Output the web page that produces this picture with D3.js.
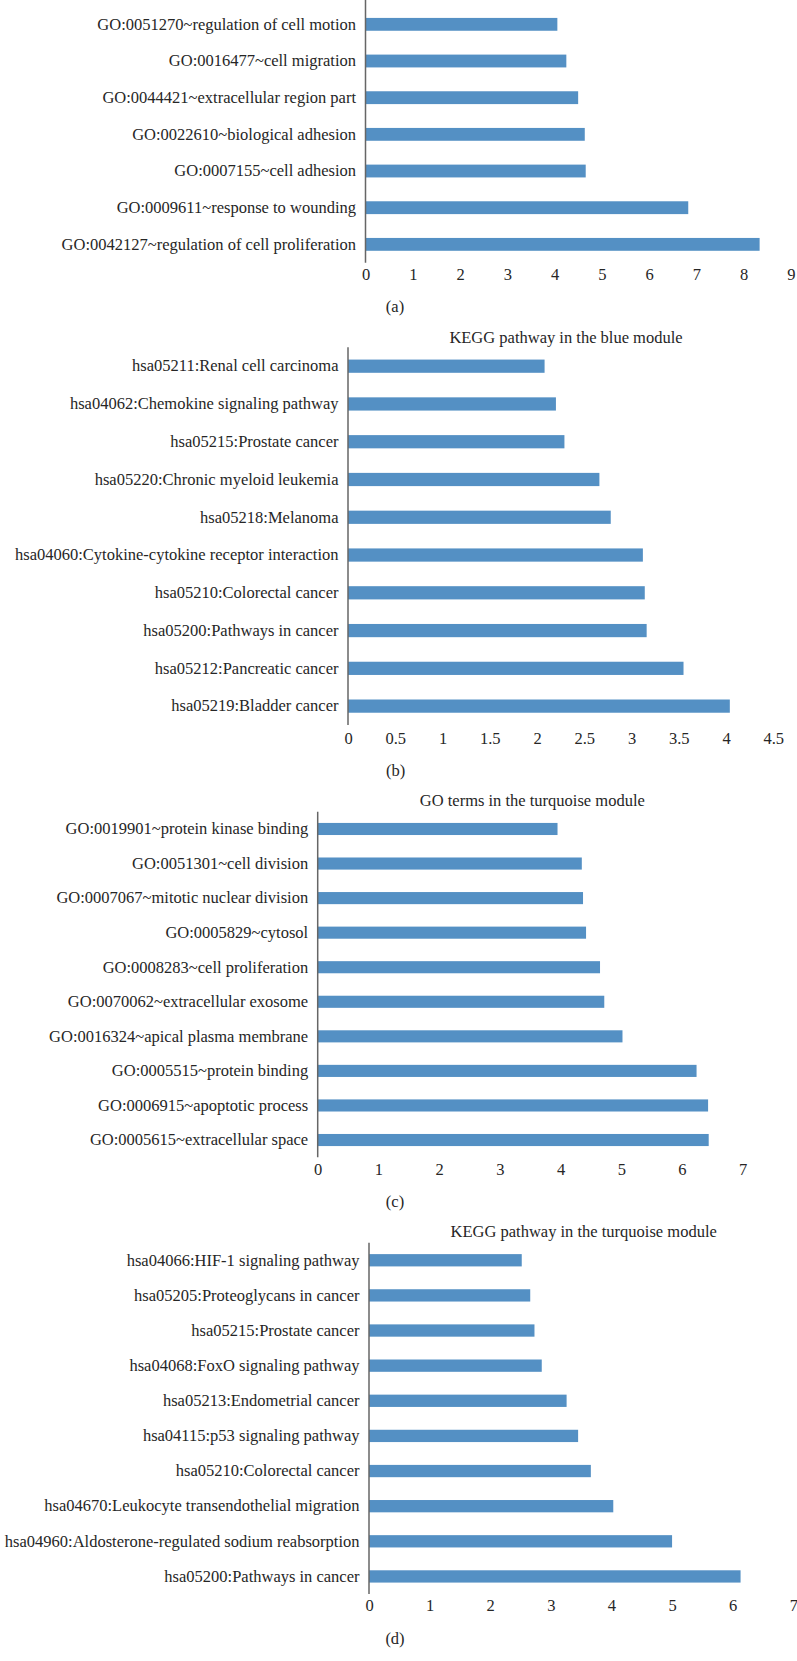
<!DOCTYPE html>
<html>
<head>
<meta charset="utf-8">
<script src="https://cdn.jsdelivr.net/npm/d3@7"></script>
<style>
  html, body { margin: 0; padding: 0; background: #ffffff; }
  svg { display: block; }
  text { font-family: "Liberation Serif", "Times New Roman", serif; fill: #262626; }
</style>
</head>
<body>
<svg id="chart" width="797" height="1661"></svg>
<script>
// ---------- Data ----------
const categoriesA = [
  "GO:0051270~regulation of cell motion",
  "GO:0016477~cell migration",
  "GO:0044421~extracellular region part",
  "GO:0022610~biological adhesion",
  "GO:0007155~cell adhesion",
  "GO:0009611~response to wounding",
  "GO:0042127~regulation of cell proliferation"
];
const valuesA = [4.06, 4.25, 4.50, 4.64, 4.66, 6.83, 8.34];
const ticksA = [0, 1, 2, 3, 4, 5, 6, 7, 8, 9];

const titleB = "KEGG pathway in the blue module";
const categoriesB = [
  "hsa05211:Renal cell carcinoma",
  "hsa04062:Chemokine signaling pathway",
  "hsa05215:Prostate cancer",
  "hsa05220:Chronic myeloid leukemia",
  "hsa05218:Melanoma",
  "hsa04060:Cytokine-cytokine receptor interaction",
  "hsa05210:Colorectal cancer",
  "hsa05200:Pathways in cancer",
  "hsa05212:Pancreatic cancer",
  "hsa05219:Bladder cancer"
];
const valuesB = [2.08, 2.20, 2.29, 2.66, 2.78, 3.12, 3.14, 3.16, 3.55, 4.04];
const ticksB = [0, 0.5, 1, 1.5, 2, 2.5, 3, 3.5, 4, 4.5];

const titleC = "GO terms in the turquoise module";
const categoriesC = [
  "GO:0019901~protein kinase binding",
  "GO:0051301~cell division",
  "GO:0007067~mitotic nuclear division",
  "GO:0005829~cytosol",
  "GO:0008283~cell proliferation",
  "GO:0070062~extracellular exosome",
  "GO:0016324~apical plasma membrane",
  "GO:0005515~protein binding",
  "GO:0006915~apoptotic process",
  "GO:0005615~extracellular space"
];
const valuesC = [3.95, 4.35, 4.37, 4.42, 4.65, 4.72, 5.02, 6.24, 6.43, 6.44];
const ticksC = [0, 1, 2, 3, 4, 5, 6, 7];

const titleD = "KEGG pathway in the turquoise module";
const categoriesD = [
  "hsa04066:HIF-1 signaling pathway",
  "hsa05205:Proteoglycans in cancer",
  "hsa05215:Prostate cancer",
  "hsa04068:FoxO signaling pathway",
  "hsa05213:Endometrial cancer",
  "hsa04115:p53 signaling pathway",
  "hsa05210:Colorectal cancer",
  "hsa04670:Leukocyte transendothelial migration",
  "hsa04960:Aldosterone-regulated sodium reabsorption",
  "hsa05200:Pathways in cancer"
];
const valuesD = [2.52, 2.66, 2.73, 2.85, 3.26, 3.45, 3.66, 4.03, 5.00, 6.13];
const ticksD = [0, 1, 2, 3, 4, 5, 6, 7];

const panelLabels = ["(a)", "(b)", "(c)", "(d)"];

// ---------- Layout ----------
const FONT = 16.5;
const BAR = "#5490c4";
const AXIS = "#666666";
const TEXT = "#262626";

const panels = [
  { cats: categoriesA, vals: valuesA, ticks: ticksA, title: null,
    x0: 365.5, x1: 790.8, y0: 6, y1: 262.7, lineTop: 0,
    tickY: 280, titleX: 0, titleY: 0, labX: 395, labY: 311.5, label: panelLabels[0] },
  { cats: categoriesB, vals: valuesB, ticks: ticksB, title: titleB,
    x0: 348, x1: 773.3, y0: 347.3, y1: 725, lineTop: 347.3,
    tickY: 744, titleX: 566, titleY: 342.5, labX: 395.7, labY: 775.5, label: panelLabels[1] },
  { cats: categoriesC, vals: valuesC, ticks: ticksC, title: titleC,
    x0: 317.7, x1: 742.7, y0: 811.7, y1: 1157.3, lineTop: 811.7,
    tickY: 1175, titleX: 532.3, titleY: 806, labX: 395, labY: 1207, label: panelLabels[2] },
  { cats: categoriesD, vals: valuesD, ticks: ticksD, title: titleD,
    x0: 369, x1: 793.3, y0: 1242.7, y1: 1594, lineTop: 1242.7,
    tickY: 1611, titleX: 583.7, titleY: 1237, labX: 395, labY: 1644, label: panelLabels[3] }
];

const svg = d3.select("#chart");

panels.forEach(p => {
  const g = svg.append("g");
  const x = d3.scaleLinear()
    .domain([0, p.ticks[p.ticks.length - 1]])
    .range([p.x0, p.x1]);
  const y = d3.scaleBand()
    .domain(p.cats)
    .range([p.y0, p.y1])
    .paddingInner(0.65)
    .paddingOuter(0.325);

  const rows = p.cats.map((c, i) => ({ c, v: p.vals[i] }));

  // bars
  g.selectAll("rect.bar").data(rows).enter().append("rect")
    .attr("class", "bar")
    .attr("x", x(0))
    .attr("y", d => y(d.c))
    .attr("width", d => x(d.v) - x(0))
    .attr("height", y.bandwidth())
    .attr("fill", BAR);

  // category axis (left)
  const yAxis = d3.axisLeft(y).tickSize(0).tickPadding(9.5);
  const ya = g.append("g").attr("transform", `translate(${x(0)},0)`).call(yAxis);
  ya.select(".domain").remove();
  ya.selectAll("text")
    .style("font-family", '"Liberation Serif", "Times New Roman", serif')
    .style("font-size", FONT + "px")
    .attr("fill", TEXT);

  // vertical axis line
  g.append("line")
    .attr("x1", x(0)).attr("x2", x(0))
    .attr("y1", p.lineTop).attr("y2", p.y1)
    .attr("stroke", AXIS).attr("stroke-width", 1.5);

  // value axis (bottom, labels only)
  const xAxis = d3.axisBottom(x).tickValues(p.ticks).tickSize(0).tickPadding(0)
    .tickFormat(d => String(d));
  const xa = g.append("g").attr("transform", `translate(0,${p.tickY})`).call(xAxis);
  xa.select(".domain").remove();
  xa.selectAll("text")
    .attr("dy", 0)
    .attr("y", 0)
    .style("font-family", '"Liberation Serif", "Times New Roman", serif')
    .style("font-size", FONT + "px")
    .attr("fill", TEXT);

  // title
  if (p.title) {
    g.append("text")
      .attr("x", p.titleX).attr("y", p.titleY)
      .attr("text-anchor", "middle")
      .style("font-size", FONT + "px")
      .attr("fill", TEXT)
      .text(p.title);
  }

  // panel label
  g.append("text")
    .attr("x", p.labX).attr("y", p.labY)
    .attr("text-anchor", "middle")
    .style("font-size", FONT + "px")
    .attr("fill", TEXT)
    .text(p.label);
});
</script>
</body>
</html>
